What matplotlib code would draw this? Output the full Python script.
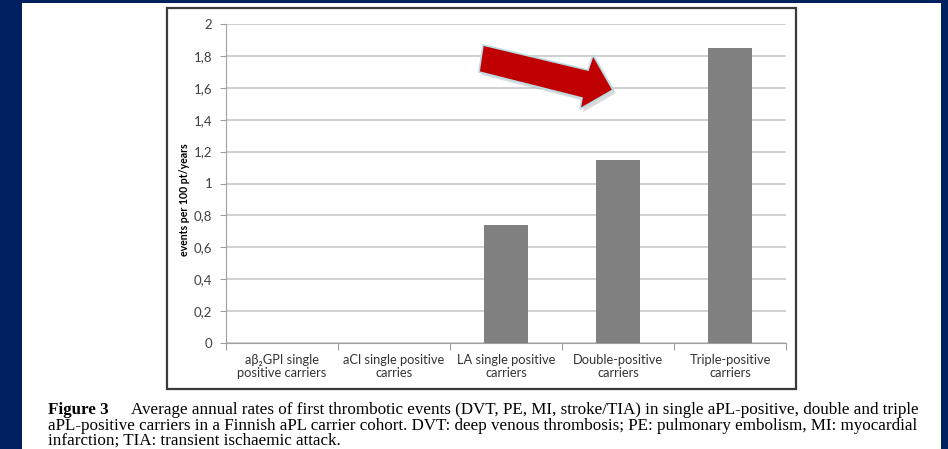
import matplotlib
matplotlib.use("Agg")
import matplotlib.pyplot as plt
from matplotlib.patches import Rectangle, Polygon

categories = ["a\u03b2\u2082GPI single\npositive carriers", "aCl single positive\ncarries",
              "LA single positive\ncarriers", "Double-positive\ncarriers", "Triple-positive\ncarriers"]
values = [0, 0, 0.74, 1.15, 1.85]
yticks = [0, 0.2, 0.4, 0.6, 0.8, 1, 1.2, 1.4, 1.6, 1.8, 2]
ytick_labels = ["0", "0,2", "0,4", "0,6", "0,8", "1", "1,2", "1,4", "1,6", "1,8", "2"]

caption = ["Average annual rates of first thrombotic events (DVT, PE, MI, stroke/TIA) in single aPL-positive, double and triple",
           "aPL-positive carriers in a Finnish aPL carrier cohort. DVT: deep venous thrombosis; PE: pulmonary embolism, MI: myocardial",
           "infarction; TIA: transient ischaemic attack."]

W, H = 948, 449
fig = plt.figure(figsize=(W / 100, H / 100), dpi=100)
fig.patch.set_facecolor("#002060")

def px(x, y):
    return (x / W, 1 - y / H)

# white slide panel
fig.add_artist(Rectangle(px(22, 449), 919 / W, 446 / H, transform=fig.transFigure,
                         facecolor="white", edgecolor="none", zorder=0))
# chart frame
fig.add_artist(Rectangle(px(167, 389), 629 / W, 381 / H, transform=fig.transFigure,
                         facecolor="white", edgecolor="#3a3a3a", lw=1.6, zorder=1))

font = ["Lato", "DejaVu Sans"]
ax = fig.add_axes([226 / W, (H - 343) / H, (786 - 226) / W, (343 - 24) / H])
ax.set_facecolor("none")
ax.set_zorder(2)
x = range(len(categories))
ax.bar(x, values, width=0.4, color="#808080", zorder=3)
ax.set_xlim(-0.5, 4.5)
ax.set_ylim(0, 2)
ax.set_yticks(yticks)
ax.set_yticklabels(ytick_labels, fontsize=9.5, family=font, color="#404040")
ax.set_xticks([i - 0.5 for i in range(6)], minor=False)
ax.set_xticklabels([])
ax.set_xticks(list(x), minor=True)
ax.set_xticklabels(categories, minor=True, fontsize=9.3, family=font, color="#333333",
                   linespacing=1.05)
ax.tick_params(axis="x", which="minor", length=0, pad=8)
ax.tick_params(axis="x", which="major", length=5, color="#a0a0a0")
ax.tick_params(axis="y", length=4, color="#a0a0a0", pad=6)
ax.yaxis.grid(True, color="#c8c8c8", lw=1.2, zorder=0)
for s in ["top", "right"]:
    ax.spines[s].set_visible(False)
for s in ["left", "bottom"]:
    ax.spines[s].set_color("#a0a0a0")
ax.set_ylabel("events per 100 pt/years", fontsize=7.6, fontweight="bold", family=font)
ax.yaxis.set_label_coords(-0.064, 0.45)

# red arrow
pts = [(483, 45), (588, 70), (593, 55), (613, 90), (580, 109), (582, 98), (479, 72)]
shadow = [px(a + 3, b + 3) for a, b in pts]
fig.add_artist(Polygon(shadow, closed=True, transform=fig.transFigure,
                       facecolor="#999999", alpha=0.35, edgecolor="none", zorder=4))
fig.add_artist(Polygon([px(a, b) for a, b in pts], closed=True, transform=fig.transFigure,
                       facecolor="#c00000", edgecolor="#b8dde6", lw=1.2, zorder=5))

# caption
cs = 12.25
fig.text(48 / W, 1 - 410 / H, "Figure 3", fontsize=cs, fontweight="bold",
         family="Liberation Serif", va="center")
fig.text(131 / W, 1 - 410 / H, caption[0], fontsize=cs, family="Liberation Serif", va="center")
fig.text(48 / W, 1 - 425.5 / H, caption[1], fontsize=cs, family="Liberation Serif", va="center")
fig.text(48 / W, 1 - 441 / H, caption[2], fontsize=cs, family="Liberation Serif", va="center")

fig.savefig("out.png", dpi=100, facecolor=fig.get_facecolor())
